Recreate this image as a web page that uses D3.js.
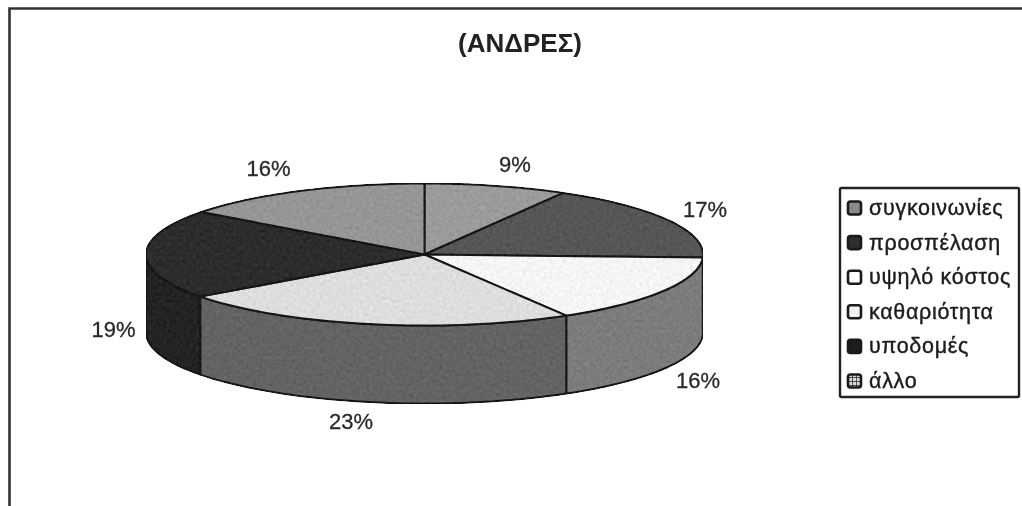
<!DOCTYPE html>
<html>
<head>
<meta charset="utf-8">
<script src="https://cdn.jsdelivr.net/npm/d3@7"></script>
<style>
  html, body { margin: 0; padding: 0; background: #fff; }
  svg { display: block; font-family: "Liberation Sans", Arial, sans-serif; filter: blur(0.5px); }
</style>
</head>
<body>
<div id="chart"></div>
<script>
const title = "(ΑΝΔΡΕΣ)";
const categories = ["συγκοινωνίες", "προσπέλαση", "υψηλό κόστος", "καθαριότητα", "υποδομές", "άλλο"];
// printed labels, and the slice sizes as they actually measure on the picture
const percentLabels = ["9%", "17%", "16%", "23%", "19%", "16%"];
const sliceSizes = [8.3, 17.4, 15.8, 23.4, 20.3, 14.8];
const topColors = ["#9b9b9b", "#565656", "#f5f5f5", "#dedede", "#2c2c2c", "#969696"];
const wallColors = ["#777777", "#3c3c3c", "#7c7c7c", "#636363", "#232323", "#777777"];
const legendSwatches = ["#8a8a8a", "#2e2e2e", "#ffffff", "#f0f0f0", "#1c1c1c", "url(#hatch)"];

const width = 1022, height = 506;
const pieBox = { cx: 424.5, cy: 254.5, rx: 278.5, ry: 71, depth: 78 };
const labelPos = [[515, 172], [705, 217], [698, 388], [351, 429], [113.5, 337], [268.5, 176]];
const legendBox = { x: 840, y: 188, w: 179, h: 209, rowStart: 208, rowStep: 34.6 };

const svg = d3.select("#chart").append("svg")
  .attr("width", width)
  .attr("height", height);

const defs = svg.append("defs");
const hatch = defs.append("pattern")
  .attr("id", "hatch")
  .attr("width", 4).attr("height", 4)
  .attr("patternUnits", "userSpaceOnUse");
hatch.append("rect").attr("width", 4).attr("height", 4).attr("fill", "#d8d8d8");
hatch.append("path").attr("d", "M0 0H4M0 0V4").attr("stroke", "#222").attr("stroke-width", 1.4);

// scan grain for the pie surfaces
const grain = defs.append("filter").attr("id", "grain")
  .attr("x", 0).attr("y", 0).attr("width", 1).attr("height", 1)
  .attr("color-interpolation-filters", "sRGB");
grain.append("feTurbulence")
  .attr("type", "fractalNoise").attr("baseFrequency", 0.3).attr("numOctaves", 3).attr("seed", 4)
  .attr("result", "noise");
grain.append("feColorMatrix").attr("in", "noise")
  .attr("type", "matrix")
  .attr("values", "0.33 0.33 0.33 0 0  0.33 0.33 0.33 0 0  0.33 0.33 0.33 0 0  0 0 0 0 1")
  .attr("result", "grey");
grain.append("feComposite")
  .attr("in", "SourceGraphic").attr("in2", "grey")
  .attr("operator", "arithmetic")
  .attr("k1", 0).attr("k2", 1).attr("k3", 0.2).attr("k4", -0.1)
  .attr("result", "mixed");
grain.append("feComposite").attr("in", "mixed").attr("in2", "SourceGraphic").attr("operator", "in");

// scanned page frame: only the top and left edges show
svg.append("path")
  .attr("d", `M9.5 ${height}V8.5H${width}`)
  .attr("fill", "none")
  .attr("stroke", "#333")
  .attr("stroke-width", 2.6);

svg.append("text")
  .attr("x", 520).attr("y", 52)
  .attr("text-anchor", "middle")
  .attr("font-size", 26)
  .attr("font-weight", "bold")
  .attr("fill", "#222")
  .text(title);

const slices = d3.pie().sort(null).value(d => d)(sliceSizes);
const ellipseX = a => pieBox.cx + pieBox.rx * Math.sin(a);
const ellipseY = a => pieBox.cy - pieBox.ry * Math.cos(a);
const edgeLine = d3.line().x(d => ellipseX(d)).y(d => ellipseY(d));
const arcPoints = (a0, a1) => d3.range(0, 41).map(i => a0 + (a1 - a0) * i / 40);

const pie = svg.append("g").attr("filter", "url(#grain)");

// side wall only exists on the half facing the viewer
const frontStart = Math.PI / 2, frontEnd = Math.PI * 3 / 2;
const wall = d3.area()
  .x(d => ellipseX(d))
  .y0(d => ellipseY(d))
  .y1(d => ellipseY(d) + pieBox.depth);
slices.forEach((s, i) => {
  const a0 = Math.max(s.startAngle, frontStart);
  const a1 = Math.min(s.endAngle, frontEnd);
  if (a1 <= a0) return;
  pie.append("path")
    .attr("d", wall(arcPoints(a0, a1)))
    .attr("fill", wallColors[i])
    .attr("stroke", "#161616")
    .attr("stroke-width", 2)
    .attr("stroke-linejoin", "round");
});

slices.forEach((s, i) => {
  const pts = arcPoints(s.startAngle, s.endAngle);
  pie.append("path")
    .attr("d", edgeLine(pts) + `L${pieBox.cx},${pieBox.cy}Z`)
    .attr("fill", topColors[i])
    .attr("stroke", "#161616")
    .attr("stroke-width", 2)
    .attr("stroke-linejoin", "round");
});

svg.append("g").selectAll("text")
  .data(percentLabels)
  .join("text")
  .attr("x", (d, i) => labelPos[i][0])
  .attr("y", (d, i) => labelPos[i][1])
  .attr("text-anchor", "middle")
  .attr("font-size", 22)
  .attr("fill", "#2a2a2a")
  .attr("stroke", "#2a2a2a")
  .attr("stroke-width", 0.3)
  .text(d => d);

const legend = svg.append("g");
legend.append("rect")
  .attr("x", legendBox.x).attr("y", legendBox.y)
  .attr("width", legendBox.w).attr("height", legendBox.h)
  .attr("rx", 1.5)
  .attr("fill", "#fff")
  .attr("stroke", "#222")
  .attr("stroke-width", 2.4);

const rows = legend.selectAll("g")
  .data(categories)
  .join("g")
  .attr("transform", (d, i) => `translate(${legendBox.x},${legendBox.rowStart + i * legendBox.rowStep})`);
rows.append("rect")
  .attr("x", 8).attr("y", -6.5)
  .attr("width", 13).attr("height", 13)
  .attr("rx", 2.5)
  .attr("fill", (d, i) => legendSwatches[i])
  .attr("stroke", "#1a1a1a")
  .attr("stroke-width", 2.6);
rows.append("text")
  .attr("x", 29).attr("y", 7)
  .attr("font-size", 21.5)
  .attr("letter-spacing", 0.7)
  .attr("fill", "#1c1c1c")
  .attr("stroke", "#1c1c1c")
  .attr("stroke-width", 0.4)
  .text(d => d);
</script>
</body>
</html>
